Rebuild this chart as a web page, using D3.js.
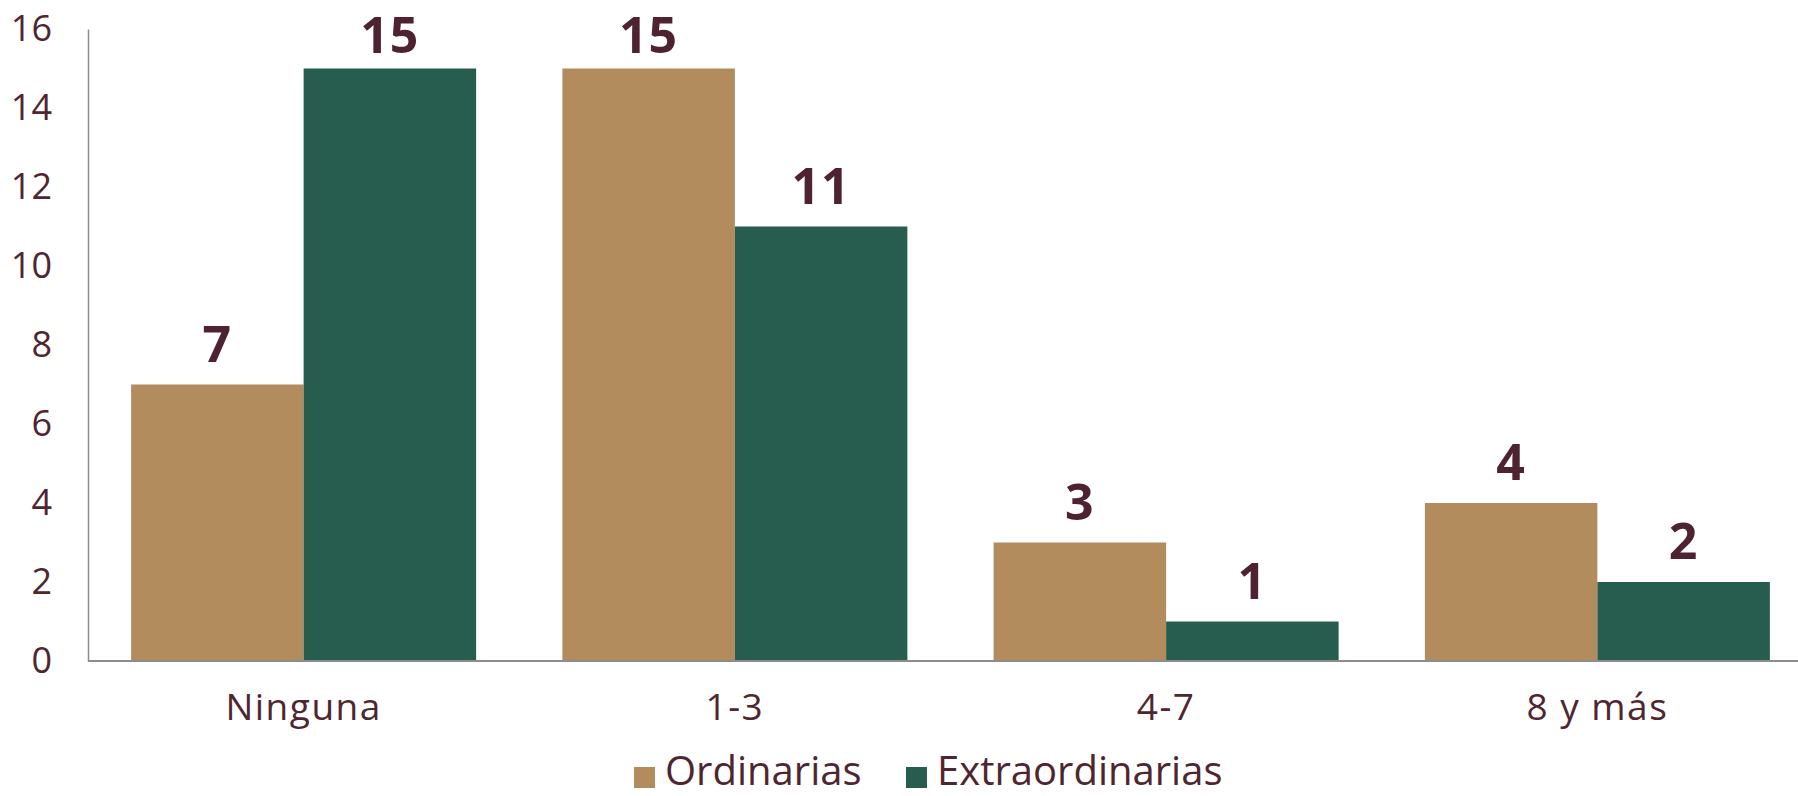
<!DOCTYPE html>
<html>
<head>
<meta charset="utf-8">
<script src="https://cdn.jsdelivr.net/npm/d3@7"></script>
<style>
  html, body { margin: 0; padding: 0; background: #ffffff; }
  svg { display: block; font-family: "Open Sans", "Noto Sans", sans-serif; }
</style>
</head>
<body>
<svg id="chart" width="1798" height="796"></svg>
<script>
  const categories = ["Ninguna", "1-3", "4-7", "8 y más"];
  const seriesNames = ["Ordinarias", "Extraordinarias"];
  const ordinarias = [7, 15, 3, 4];
  const extraordinarias = [15, 11, 1, 2];
  const yTicks = [0, 2, 4, 6, 8, 10, 12, 14, 16];

  const colors = { Ordinarias: "#b28c5c", Extraordinarias: "#275d4e" };
  const textColor = "#4f2630";

  const W = 1798, H = 796;
  const margin = { top: 29, right: -15, bottom: 135, left: 88 };

  const svg = d3.select("#chart");

  const rows = categories.map((c, i) => ({
    cat: c,
    values: [
      { key: "Ordinarias", value: ordinarias[i] },
      { key: "Extraordinarias", value: extraordinarias[i] }
    ]
  }));

  const x0 = d3.scaleBand()
    .domain(categories)
    .range([margin.left, W - margin.right])
    .paddingInner(0.2)
    .paddingOuter(0.1);

  const x1 = d3.scaleBand()
    .domain(seriesNames)
    .range([0, x0.bandwidth()]);

  const y = d3.scaleLinear()
    .domain([0, 16])
    .range([H - margin.bottom, margin.top]);

  // bars
  const groups = svg.append("g").selectAll("g")
    .data(rows)
    .join("g")
    .attr("transform", (d) => `translate(${x0(d.cat)},0)`);

  groups.selectAll("rect")
    .data((d) => d.values)
    .join("rect")
    .attr("x", (d) => x1(d.key))
    .attr("y", (d) => y(d.value))
    .attr("width", x1.bandwidth())
    .attr("height", (d) => y(0) - y(d.value))
    .attr("fill", (d) => colors[d.key]);

  groups.selectAll("text.val")
    .data((d) => d.values)
    .join("text")
    .attr("class", "val")
    .attr("x", (d) => x1(d.key) + x1.bandwidth() / 2)
    .attr("y", (d) => Math.max(y(d.value) - 23, 53))
    .attr("text-anchor", "middle")
    .attr("font-size", 50)
    .attr("font-weight", 700)
    .attr("letter-spacing", 1)
    .attr("fill", "#4e2230")
    .text((d) => d.value);

  // y axis
  const yAxis = svg.append("g")
    .attr("transform", `translate(${margin.left},0)`)
    .call(d3.axisLeft(y).tickValues(yTicks).tickSize(0).tickPadding(36));
  yAxis.select(".domain").attr("stroke", "#8c8c8c").attr("stroke-width", 1.5);
  yAxis.selectAll("text")
    .attr("font-size", 36)
    .attr("font-family", "Open Sans, sans-serif")
    .attr("fill", textColor);

  // x axis
  const xAxis = svg.append("g")
    .attr("transform", `translate(0,${y(0)})`)
    .call(d3.axisBottom(x0).tickSize(0).tickPadding(33));
  xAxis.select(".domain")
    .attr("d", `M${margin.left},0H${W}`)
    .attr("stroke", "#8c8c8c").attr("stroke-width", 2);
  xAxis.selectAll("text")
    .attr("font-size", 37)
    .attr("letter-spacing", 1.5)
    .attr("font-family", "Open Sans, sans-serif")
    .attr("fill", textColor);

  // legend
  const legend = svg.append("g").attr("transform", "translate(0,785)");
  const legendX = [634, 906];
  seriesNames.forEach((name, i) => {
    const g = legend.append("g").attr("transform", `translate(${legendX[i]},0)`);
    g.append("rect")
      .attr("x", 0).attr("y", -18)
      .attr("width", 21).attr("height", 21)
      .attr("fill", colors[name]);
    g.append("text")
      .attr("x", 31).attr("y", 0)
      .attr("font-size", 40)
      .attr("fill", textColor)
      .text(name);
  });
</script>
</body>
</html>
